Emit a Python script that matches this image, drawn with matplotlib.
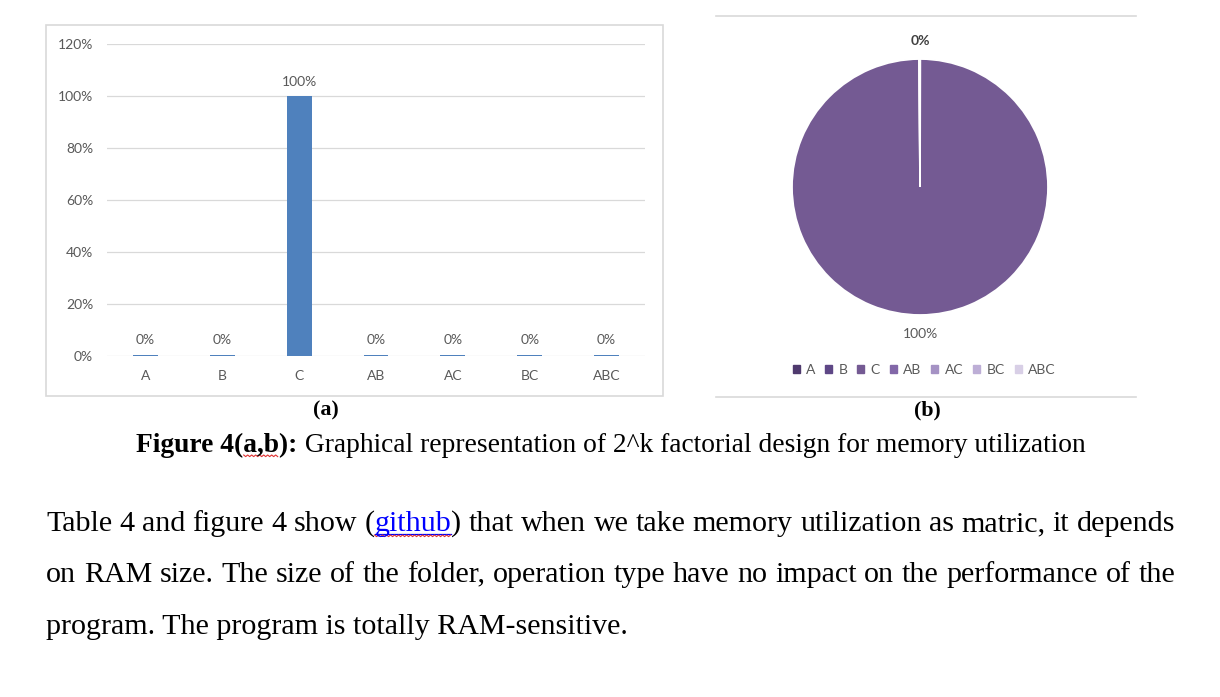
import matplotlib
matplotlib.use('Agg')
import matplotlib.pyplot as plt
import matplotlib.patches as mpatches
from matplotlib.lines import Line2D
import numpy as np

W, H = 1220, 697

# ---------------- data ----------------
categories = ['A', 'B', 'C', 'AB', 'AC', 'BC', 'ABC']
values = [0.005, 0.005, 1.0, 0.005, 0.005, 0.005, 0.005]
pie_values = [0.0002, 0.0002, 1.0, 0.0002, 0.0002, 0.0002, 0.0002]
value_labels = ['0%', '0%', '100%', '0%', '0%', '0%', '0%']
yticks = [0, 0.2, 0.4, 0.6, 0.8, 1.0, 1.2]
ytick_labels = ['0%', '20%', '40%', '60%', '80%', '100%', '120%']
pie_colors = ['#4F3A6E', '#5E4786', '#745A93', '#8267A8', '#A592C4', '#BDAED6', '#D8CFE6']
pie_zero_label = '0%'
pie_main_label = '100%'

caption_bold = 'Figure 4(a,b):'
caption_rest = ' Graphical representation of 2^k factorial design for memory utilization'
para_line1 = ['Table', '4', 'and', 'figure', '4', 'show', '(github)', 'that', 'when', 'we', 'take',
              'memory', 'utilization', 'as', 'matric,', 'it', 'depends']
para_line2 = 'on RAM size. The size of the folder, operation type have no impact on the performance of the'.split()
para_line3 = 'program. The program is totally RAM-sensitive.'

GREY = '#595959'
GRID = '#D9D9D9'
CHART_FONT = ['Lato', 'DejaVu Sans']
SERIF = ['Liberation Serif', 'DejaVu Serif']
CFS = 10

fig = plt.figure(figsize=(W / 100, H / 100), dpi=100)
fig.patch.set_facecolor('white')


def fx(x):
    return np.asarray(x) / W


def fy(y):
    return 1 - np.asarray(y) / H


# ---------------- bar chart (a) ----------------
fig.add_artist(mpatches.Rectangle((fx(46), fy(396)), (663 - 46) / W, (396 - 25) / H,
                                  transform=fig.transFigure, fill=False, edgecolor=GRID, lw=1.2))
ax = fig.add_axes([fx(107), fy(356), (645 - 107) / W, (356 - 44) / H])
x = np.arange(len(categories))
ax.bar(x, values, width=0.325, color='#4F81BD', linewidth=0, zorder=3)
ax.set_xlim(-0.5, len(categories) - 0.5)
ax.set_ylim(0, 1.2)
ax.set_yticks(yticks)
ax.set_yticklabels(ytick_labels)
ax.set_xticks(x)
ax.set_xticklabels(categories)
for s in ax.spines.values():
    s.set_visible(False)
ax.grid(axis='y', color=GRID, lw=0.9, zorder=0)
ax.set_axisbelow(True)
ax.tick_params(length=0, labelsize=CFS, colors=GREY, pad=10)
ax.tick_params(axis='x', pad=10)
for lab in ax.get_xticklabels() + ax.get_yticklabels():
    lab.set_family(CHART_FONT)
for xi, v, lab in zip(x, values, value_labels):
    ax.annotate(lab, (xi, v), xytext=(0, 6), textcoords='offset points', ha='center', va='bottom',
                fontsize=CFS, color=GREY, family=CHART_FONT)

# ---------------- pie chart (b) ----------------
for yy in (16, 397):
    fig.add_artist(Line2D([fx(716), fx(1136)], [fy(yy), fy(yy)], transform=fig.transFigure,
                          color=GRID, lw=1.2))
R = 128
pax = fig.add_axes([fx(920 - R), fy(187 + R), 2 * R / W, 2 * R / H])
wedges, _ = pax.pie(pie_values, colors=pie_colors, startangle=90, counterclock=False,
                    wedgeprops=dict(edgecolor='white', linewidth=1.3))
pax.set_xlim(-1, 1)
pax.set_ylim(-1, 1)
pax.axis('off')
# label for the main slice (C)
w = wedges[2]
ang = np.deg2rad((w.theta1 + w.theta2) / 2)
pax.text(1.15 * np.cos(ang), 1.15 * np.sin(ang), pie_main_label, ha='center', va='center',
         fontsize=CFS, color=GREY, family=CHART_FONT, clip_on=False)
# label for the (overlapping) zero slices at the top
w0 = wedges[0]
ang0 = np.deg2rad(w0.theta2)
pax.text(1.14 * np.cos(ang0), 1.14 * np.sin(ang0), pie_zero_label, ha='center', va='center',
         fontsize=CFS, color='#404040', fontweight='bold', family=CHART_FONT, clip_on=False)

handles = [mpatches.Patch(color=c, label=l) for c, l in zip(pie_colors, categories)]
fig.legend(handles=handles, ncol=7, frameon=False, loc='center',
           bbox_to_anchor=(fx(924), fy(370)), prop={'family': CHART_FONT, 'size': CFS},
           labelcolor=GREY, handlelength=0.5, handleheight=0.5, handletextpad=0.45,
           columnspacing=0.72)

# ---------------- captions and paragraph ----------------
fig.canvas.draw()
rend = fig.canvas.get_renderer()


def tw(s, **kw):
    t = fig.text(0, 0, s, **kw)
    wdt = t.get_window_extent(rend).width
    t.remove()
    return wdt


# font size for body text fitted to the reference line width; caption one point smaller
fs = 10 * 581 / tw(para_line3, family=SERIF, fontsize=10)
cfs = fs * 11 / 12

fig.text(fx(326), fy(410), '(a)', ha='center', va='center', family=SERIF, fontweight='bold', fontsize=cfs * 0.8)
fig.text(fx(927), fy(410), '(b)', ha='center', va='center', family=SERIF, fontweight='bold', fontsize=cfs * 0.8)


def squiggle(x0, x1, yb):
    xs = np.arange(x0, x1 + 0.1, 2.0)
    ys = yb + np.where(np.arange(len(xs)) % 2 == 0, 0, 1.6)
    fig.add_artist(Line2D(fx(xs), fy(ys), transform=fig.transFigure, color='#E03030', lw=0.8))


# caption
bw = tw(caption_bold, family=SERIF, fontsize=cfs, fontweight='bold')
cap_total = bw + tw(caption_rest, family=SERIF, fontsize=cfs)
cx = 611 - cap_total / 2
cb = 452
fig.text(fx(cx), fy(cb), caption_bold, family=SERIF, fontsize=cfs, fontweight='bold', va='baseline')
pre = tw('Figure 4(', family=SERIF, fontsize=cfs, fontweight='bold')
ab = tw('a,b', family=SERIF, fontsize=cfs, fontweight='bold')
squiggle(cx + pre, cx + pre + ab, cb + 3)
fig.text(fx(cx + bw), fy(cb), caption_rest, family=SERIF, fontsize=cfs, va='baseline')


def word_runs(word):
    if word == '(github)':
        return [('(', 'black', False), ('github', '#0000FF', True), (')', 'black', False)]
    return [(word, 'black', False)]


def run_width(word):
    return sum(tw(r[0], family=SERIF, fontsize=fs) for r in word_runs(word))


def draw_word(xp, yb, word):
    for txt, col, link in word_runs(word):
        wdt = tw(txt, family=SERIF, fontsize=fs)
        fig.text(fx(xp), fy(yb), txt, family=SERIF, fontsize=fs, color=col, va='baseline')
        if link:
            fig.add_artist(Line2D([fx(xp), fx(xp + wdt)], [fy(yb + 2.5), fy(yb + 2.5)],
                                  transform=fig.transFigure, color=col, lw=0.9))
            squiggle(xp, xp + wdt, yb + 4)
        xp += wdt


def justified(words, yb, x0=46, x1=1175):
    widths = [run_width(wd) for wd in words]
    gap = (x1 - x0 - sum(widths)) / (len(words) - 1)
    xp = x0
    for wd, wdt in zip(words, widths):
        draw_word(xp, yb, wd)
        xp += wdt + gap


justified(para_line1, 531)
justified(para_line2, 582.5)
fig.text(fx(46), fy(634), para_line3, family=SERIF, fontsize=fs, va='baseline')

fig.savefig('out.png', dpi=100, facecolor='white')
